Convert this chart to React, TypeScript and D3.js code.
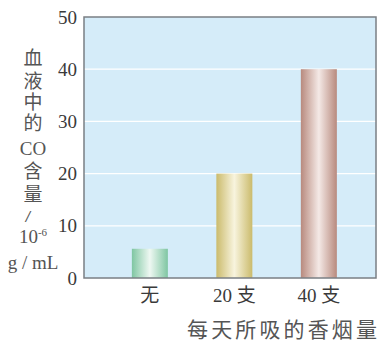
import React from "react";
import * as d3 from "d3";

const categories = ["无", "20 支", "40 支"];
const values = [5.6, 20, 40];
const yTicks = [0, 10, 20, 30, 40, 50];
const yLabelLines = ["血", "液", "中", "的", "CO", "含", "量", "/", "10⁻⁶", "g / mL"];
const xTitle = "每天所吸的香烟量";
const barColors = [
  { edge: "#7fc6a2", mid: "#eef8f2" },
  { edge: "#cbbb6c", mid: "#f8f4de" },
  { edge: "#b88a7e", mid: "#f4e9e6" },
];

const W = 379, H = 341;
const plot = { left: 84, right: 376, top: 17, bottom: 278 };
const serif = "'Liberation Serif', 'DejaVu Serif', serif";
const cjk = "'Liberation Serif', 'Noto Sans CJK SC', sans-serif";

export default function App() {
  const y = d3.scaleLinear().domain([0, 50]).range([plot.bottom, plot.top]);
  const x = d3
    .scaleBand<string>()
    .domain(categories)
    .range([plot.left, plot.right])
    .paddingInner(0.574)
    .paddingOuter(0.515)
    .align(0.55);
  const bw = x.bandwidth();
  const yLabelBase = [65, 88, 109, 130, 155, 178, 201, 222, 243, 269];

  return (
    <svg width={W} height={H} style={{ position: "absolute", left: 0, top: 0 }}>
      <defs>
        {barColors.map((c, i) => (
          <linearGradient key={i} id={`g${i}`} x1="0" x2="1" y1="0" y2="0">
            <stop offset="0%" stopColor={c.edge} />
            <stop offset="50%" stopColor={c.mid} />
            <stop offset="100%" stopColor={c.edge} />
          </linearGradient>
        ))}
      </defs>
      <rect x={0} y={0} width={W} height={H} fill="#ffffff" />
      <rect
        x={plot.left}
        y={plot.top}
        width={plot.right - plot.left}
        height={plot.bottom - plot.top}
        fill="#d5ecf9"
      />
      {yTicks.slice(1, -1).map((t) => (
        <line
          key={t}
          x1={plot.left}
          x2={plot.right}
          y1={y(t)}
          y2={y(t)}
          stroke="#ffffff"
          strokeWidth={1.3}
        />
      ))}
      {categories.map((c, i) => (
        <rect
          key={c}
          x={x(c)}
          y={y(values[i])}
          width={bw}
          height={plot.bottom - y(values[i])}
          fill={`url(#g${i})`}
        />
      ))}
      <rect
        x={plot.left}
        y={plot.top}
        width={plot.right - plot.left}
        height={plot.bottom - plot.top}
        fill="none"
        stroke="#7a7f84"
        strokeWidth={1.5}
      />
      {yTicks.map((t) => (
        <text
          key={t}
          x={77}
          y={y(t) + 6.5}
          textAnchor="end"
          fontFamily={serif}
          fontSize={19}
          fill="#3a3a3a"
        >
          {t}
        </text>
      ))}
      {categories.map((c) => (
        <text
          key={c}
          x={(x(c) as number) + bw / 2}
          y={302}
          textAnchor="middle"
          fontFamily={cjk}
          fontSize={19}
          fill="#3a3a3a"
        >
          {c}
        </text>
      ))}
      <text
        x={187}
        y={337}
        fontFamily={cjk}
        fontSize={21}
        fill="#555"
        textLength={190}
        lengthAdjust="spacing"
      >
        {xTitle}
      </text>
      {yLabelLines.map((s, i) => {
        if (s.startsWith("10")) {
          return (
            <text key={i} x={33} y={yLabelBase[i]} textAnchor="middle" fontFamily={serif} fontSize={19} fill="#555">
              10
              <tspan fontSize={11} dy={-7}>-6</tspan>
            </text>
          );
        }
        if (s === "/") {
          return (
            <text
              key={i}
              x={28}
              y={yLabelBase[i]}
              textAnchor="middle"
              fontFamily={serif}
              fontSize={17}
              fill="#555"
              transform={`translate(${28 * -0.4},0) scale(1.4,1)`}
            >
              {s}
            </text>
          );
        }
        return (
          <text
            key={i}
            x={33}
            y={yLabelBase[i]}
            textAnchor="middle"
            fontFamily={cjk}
            fontSize={19}
            fill="#555"
          >
            {s}
          </text>
        );
      })}
    </svg>
  );
}
